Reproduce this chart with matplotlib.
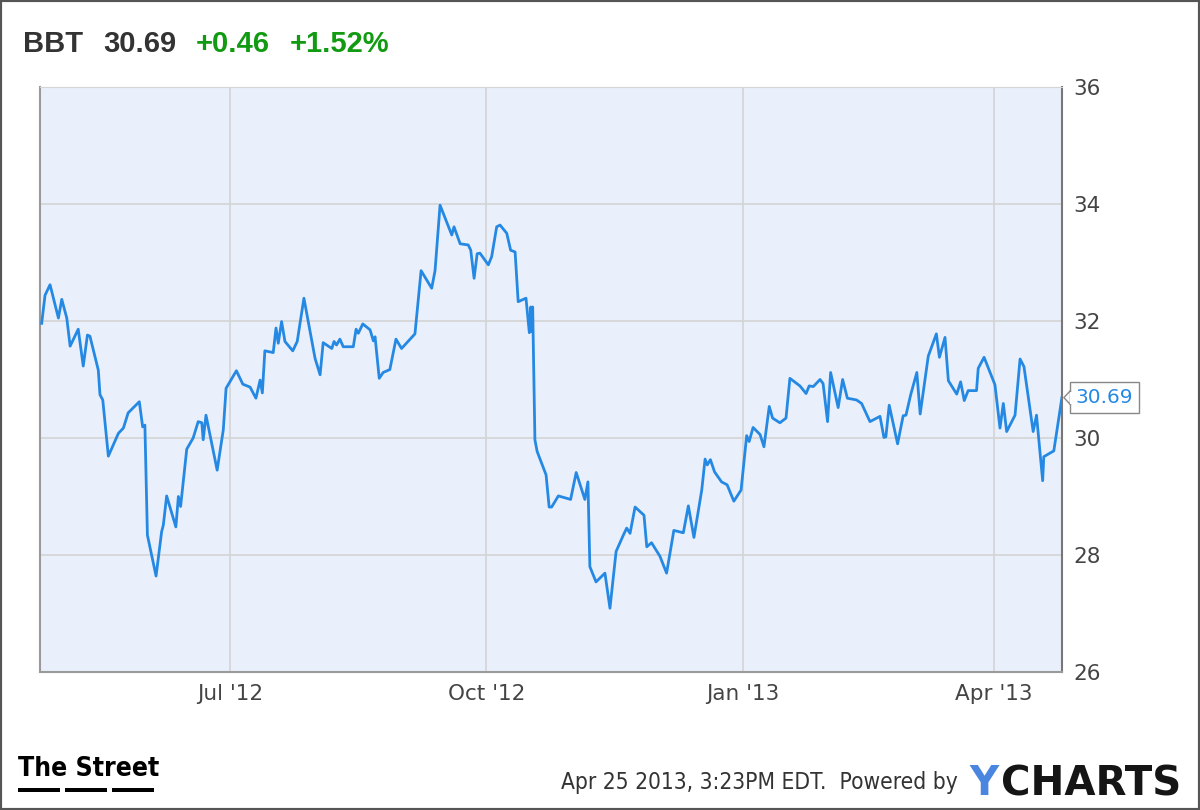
import numpy as np
import matplotlib
matplotlib.use("Agg")
import matplotlib.pyplot as plt
import matplotlib.dates as mdates
from matplotlib.patches import Rectangle, Polygon

# days after 2012-04-24
days = [0.6, 1.8, 3.6, 6.6, 7.8, 9.6, 10.8, 13.7, 15.5, 17.0, 17.9, 20.9, 21.5, 22.5,
        24.5, 28.1, 29.9, 31.6, 35.6, 36.8, 37.6, 38.5, 41.6, 43.6, 44.2, 45.4, 48.7,
        49.6, 50.4, 52.6, 54.9, 56.7, 58.0, 58.5, 59.5, 63.5, 65.7, 66.7, 70.4, 72.7,
        75.3, 77.4, 78.9, 79.7, 80.6, 83.6, 84.6, 85.4, 86.6, 87.8, 90.6, 92.2, 94.6,
        98.6, 100.4, 101.5, 104.6, 105.4, 106.3, 107.5, 108.7, 112.3, 113.3, 114.1,
        115.7, 118.3, 119.5, 120.1, 121.6, 123.0, 125.4, 127.6, 129.6, 134.4, 136.6,
        140.4, 141.6, 143.4, 147.6, 148.4, 150.6, 153.5, 154.4, 155.6, 156.7, 157.7,
        160.7, 161.9, 163.7, 164.9, 167.3, 168.7, 170.3, 171.4, 174.2, 175.4, 175.9,
        176.2, 176.6, 177.4, 178.2, 181.4, 182.5, 183.4, 185.8, 190.2, 192.2, 195.3,
        196.4, 197.1, 199.3, 202.5, 204.3, 206.5, 209.1, 210.3, 211.5, 213.3, 216.5,
        217.5, 219.2, 222.2, 224.6, 227.2, 230.6, 232.4, 234.4, 237.2, 238.4, 239.2,
        240.3, 241.8, 244.3, 246.3, 248.7, 251.3, 253.3, 254.2, 255.6, 258.1, 259.5,
        261.4, 262.6, 265.2, 267.4, 268.8, 272.4, 274.6, 275.7, 277.2, 279.6, 280.7,
        282.3, 283.4, 286.1, 287.7, 289.4, 292.7, 294.5, 297.5, 301.1, 302.5, 303.2,
        304.4, 307.4, 309.4, 310.4, 312.1, 314.3, 315.5, 318.4, 321.3, 322.4, 324.4,
        325.6, 328.6, 330.0, 331.3, 332.7, 335.7, 336.3, 338.4, 342.3, 344.1, 345.3,
        346.5, 349.5, 351.3, 352.7, 356.0, 357.2, 359.4, 359.8, 363.4, 366.3]

prices = [31.96, 32.44, 32.62, 32.05, 32.37, 32.05, 31.57, 31.86, 31.23, 31.76, 31.74,
          31.16, 30.74, 30.65, 29.69, 30.08, 30.17, 30.43, 30.62, 30.19, 30.22, 28.34,
          27.64, 28.40, 28.51, 29.01, 28.48, 29.00, 28.83, 29.81, 30.00, 30.28, 30.26,
          29.97, 30.39, 29.45, 30.14, 30.85, 31.15, 30.92, 30.87, 30.68, 30.99, 30.77,
          31.49, 31.46, 31.88, 31.62, 31.99, 31.65, 31.49, 31.65, 32.39, 31.36, 31.08,
          31.63, 31.53, 31.65, 31.59, 31.69, 31.56, 31.56, 31.86, 31.79, 31.95, 31.85,
          31.66, 31.73, 31.02, 31.12, 31.17, 31.69, 31.53, 31.78, 32.86, 32.56, 32.86,
          33.98, 33.47, 33.61, 33.32, 33.30, 33.21, 32.73, 33.15, 33.16, 32.96, 33.10,
          33.61, 33.64, 33.50, 33.21, 33.18, 32.33, 32.39, 31.80, 32.24, 31.82, 32.24,
          29.97, 29.77, 29.37, 28.82, 28.82, 29.01, 28.95, 29.41, 28.95, 29.25, 27.80,
          27.54, 27.69, 27.09, 28.06, 28.34, 28.46, 28.37, 28.82, 28.68, 28.14, 28.21,
          27.98, 27.69, 28.42, 28.38, 28.84, 28.30, 29.11, 29.64, 29.54, 29.63, 29.42,
          29.25, 29.20, 28.92, 29.11, 30.04, 29.94, 30.18, 30.06, 29.85, 30.54, 30.34,
          30.26, 30.34, 31.02, 30.89, 30.76, 30.89, 30.88, 31.00, 30.93, 30.28, 31.12,
          30.52, 31.00, 30.68, 30.65, 30.59, 30.28, 30.37, 30.01, 30.02, 30.56, 29.90,
          30.38, 30.39, 30.74, 31.12, 30.41, 31.40, 31.78, 31.38, 31.72, 30.98, 30.75,
          30.96, 30.64, 30.81, 30.81, 31.19, 31.38, 30.91, 30.17, 30.59, 30.11, 30.39,
          31.35, 31.22, 30.11, 30.39, 29.27, 29.68, 29.78, 30.69]

ticker = "BBT"
last_price = "30.69"
change = "+0.46"
change_pct = "+1.52%"
y_ticks = [26, 28, 30, 32, 34, 36]
x_tick_dates = ["2012-07-01", "2012-10-01", "2013-01-01", "2013-04-01"]
x_tick_labels = ["Jul '12", "Oct '12", "Jan '13", "Apr '13"]
stamp = "Apr 25 2013, 3:23PM EDT.  Powered by"

start = np.datetime64("2012-04-24")
dates = start + (np.array(days) * 24 * 60).astype("timedelta64[m]")
dates = dates.astype("datetime64[ms]").astype(object)

W, H = 1200, 810
fig = plt.figure(figsize=(12, 8.1), dpi=100)
plt.rcParams['font.family'] = ['DejaVu Sans']

ax = fig.add_axes([40 / W, 1 - 672 / H, (1062 - 40) / W, (672 - 87) / H])
ax.set_facecolor("#eaf0fb")
ax.plot(dates, prices, color="#2589e4", lw=2.0, solid_joinstyle="round", zorder=3)

ax.set_ylim(26, 36)
ax.set_xlim(np.datetime64("2012-04-24T00:00"), np.datetime64("2013-04-25T08:00"))
ax.set_yticks(y_ticks)
ax.set_xticks([np.datetime64(d) for d in x_tick_dates])
ax.set_xticklabels(x_tick_labels)
ax.yaxis.tick_right()
ax.tick_params(axis="y", length=0, pad=8, labelsize=15.5, labelcolor="#444444")
ax.tick_params(axis="x", length=0, pad=9, labelsize=15.5, labelcolor="#444444")
ax.grid(True, color="#d4d4d4", lw=1.2)
ax.set_axisbelow(True)
for side in ["left", "bottom"]:
    ax.spines[side].set_color("#9a9a9a")
    ax.spines[side].set_linewidth(1.5)
ax.spines["right"].set_color("#777777")
ax.spines["right"].set_linewidth(1.5)
ax.spines["top"].set_color("#d4d4d4")

# price tag at the last point
last_x = mdates.date2num(dates[-1])
ax.annotate(last_price, xy=(last_x, prices[-1]), xytext=(14, 0), textcoords="offset pixels",
            ha="left", va="center", fontsize=14.5, color="#2589e4",
            bbox=dict(boxstyle="square,pad=0.3", fc="white", ec="#888888", lw=1),
            annotation_clip=False, zorder=5)
px, py = ax.transData.transform((last_x, prices[-1]))
tri = Polygon([[px + 2, py], [px + 8.5, py + 7], [px + 8.5, py - 7]], closed=True,
              fc="white", ec="#888888", lw=1, transform=None, clip_on=False, zorder=6)
fig.patches.append(tri)
fig.patches.append(Rectangle((px + 8, py - 6), 2.5, 12, fc="white", ec="none",
                             transform=None, zorder=7))

# header
hy = 1 - 44 / H
hfont = ["Liberation Sans", "DejaVu Sans"]
fig.text(23 / W, hy, ticker, fontsize=21, fontweight="bold", color="#333333", va="center", family=hfont)
fig.text(103 / W, hy, last_price, fontsize=21, fontweight="bold", color="#333333", va="center", family=hfont)
fig.text(196 / W, hy, change, fontsize=21, fontweight="bold", color="#129a12", va="center", family=hfont)
fig.text(290 / W, hy, change_pct, fontsize=21, fontweight="bold", color="#129a12", va="center", family=hfont)

# footer
fig.text(18 / W, 1 - 776 / H, "The Street", fontsize=19, fontweight="bold", color="black",
         va="baseline", family="DejaVu Sans", stretch="condensed")
for x0 in [18, 65, 112]:
    fig.patches.append(Rectangle((x0 / W, 1 - 792 / H), 42 / W, 4 / H, fc="black", ec="none",
                                 transform=fig.transFigure))
fig.text(958 / W, 1 - 789 / H, stamp, fontsize=16.3, color="#333333", ha="right", va="baseline",
         family="DejaVu Sans", stretch="condensed")
fig.text(999 / W, 1 - 795 / H, "Y", fontsize=29, fontweight="bold", color="#4a86e0",
         ha="right", va="baseline", family="DejaVu Sans")
fig.text(1181 / W, 1 - 795 / H, "CHARTS", fontsize=29, fontweight="bold", color="#151515",
         ha="right", va="baseline", family="DejaVu Sans")

# outer frame
fig.patches.append(Rectangle((0, 0), 1, 1, fc="none", ec="#555555", lw=3,
                             transform=fig.transFigure))

fig.savefig("out.png", dpi=100)
